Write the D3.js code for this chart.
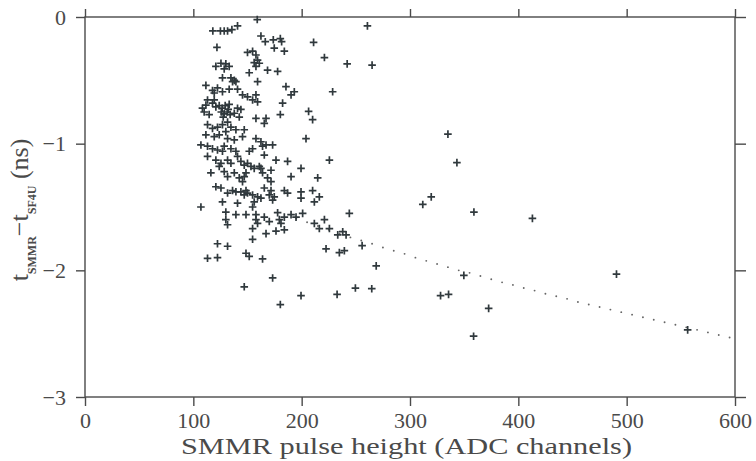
<!DOCTYPE html>
<html>
<head>
<meta charset="utf-8">
<script src="https://cdn.jsdelivr.net/npm/d3@7"></script>
<style>
  html, body { margin: 0; padding: 0; background: #fff; }
  svg { display: block; }
</style>
</head>
<body>
<svg id="chart" width="756" height="461"></svg>
<script>
// ---- data ----
const pulseHeight = [
  118,125,128.5,131.6,135.6,140.8,159,162.4,166.4,173.8,180.3,181.5,174.7,184,121.8,150,154.7,157.8,159.3,156.2,
  160.9,157.8,120.8,125.5,130,133.1,128.5,151.6,168.5,177.8,126.9,134.7,137.8,139.3,136.2,159.3,111.6,185.5,193.2,190.2,
  117.7,122.3,119.3,126.9,133.1,140.8,145.4,150,157.8,154.7,159.3,113.1,111.6,119.3,117.7,120.8,182.4,123.9,126.7,129.4,
  132.2,125.8,128.5,131.3,134,127.6,133.1,140.8,143.9,137.8,142.4,110,114.6,108.4,180.3,157.8,167.1,165.5,113.1,117.7,
  122.3,126.9,131.6,134.7,139.3,130,147,111.6,119.3,123.9,131.6,137.8,145.4,157.8,162.4,167.1,163.9,173.2,107,113.1,
  117.7,122.3,128.5,134.7,126.9,139.3,154.7,151.6,165.5,113.1,120.8,125.5,131.6,134.7,140.8,143.9,147,150,153.2,156.2,
  160.9,162.4,176.3,171.7,187,199.4,116.2,123.9,128.5,131.6,137.8,142.4,147,145.4,148.6,163.9,171.7,168.5,190.2,120.8,
  125.5,131.6,136.2,139.3,143.9,148.6,150,147,154.7,159.3,165.5,171.7,170.1,173.2,174.7,184,187,199.4,199.4,126.9,
  140.8,156.2,162.4,154.7,107,130,139.3,148.6,157.8,165.5,177.8,184,190.2,194.8,200.9,130,131.6,157.8,159.3,170.1,
  179.4,180.9,154.7,167.1,176.3,184,154.7,122.3,131.6,113.1,122.3,148.6,151.6,163.9,173.2,147,
  211,221,242,265,260.7,228.6,206.4,210.1,204,225.6,214.8,210.1,211.7,216.3,211.7,216.3,225.6,233.3,237.9,241,
  244,221,255.8,268.8,222.5,234.8,239.4,232.7,249.6,264.7,199.4,180.3,
  335,343.3,311.8,319.6,359,413,328.2,335.6,349.7,372.6,358.7,490.6,556.3
];
const timeDiff = [
  -0.11,-0.11,-0.11,-0.11,-0.10,-0.07,-0.02,-0.15,-0.195,-0.18,-0.17,-0.195,-0.245,-0.27,-0.24,-0.28,-0.27,-0.30,-0.34,-0.36,
  -0.365,-0.39,-0.39,-0.365,-0.37,-0.39,-0.41,-0.44,-0.42,-0.43,-0.48,-0.48,-0.50,-0.51,-0.51,-0.51,-0.54,-0.55,-0.59,-0.615,
  -0.58,-0.56,-0.60,-0.59,-0.57,-0.57,-0.615,-0.63,-0.615,-0.655,-0.67,-0.655,-0.695,-0.655,-0.68,-0.71,-0.68,-0.70,-0.72,-0.70,
  -0.73,-0.75,-0.765,-0.75,-0.77,-0.79,-0.69,-0.72,-0.73,-0.76,-0.79,-0.75,-0.77,-0.72,-0.77,-0.80,-0.80,-0.84,-0.85,-0.88,
  -0.87,-0.85,-0.83,-0.87,-0.89,-0.905,-0.89,-0.93,-0.945,-0.93,-0.96,-0.97,-0.945,-0.96,-0.985,-1.01,-1.02,-1.01,-1.01,-1.02,
  -1.04,-1.05,-1.02,-1.04,-1.06,-1.06,-1.04,-1.06,-1.09,-1.10,-1.13,-1.155,-1.13,-1.155,-1.10,-1.14,-1.17,-1.155,-1.18,-1.195,
  -1.18,-1.195,-1.13,-1.21,-1.14,-1.195,-1.23,-1.18,-1.22,-1.26,-1.23,-1.27,-1.26,-1.30,-1.23,-1.23,-1.30,-1.27,-1.26,-1.34,
  -1.35,-1.39,-1.37,-1.38,-1.38,-1.37,-1.39,-1.405,-1.405,-1.42,-1.35,-1.37,-1.405,-1.445,-1.42,-1.37,-1.39,-1.38,-1.43,-1.46,
  -1.47,-1.46,-1.43,-1.50,-1.50,-1.54,-1.56,-1.56,-1.56,-1.58,-1.545,-1.58,-1.56,-1.58,-1.55,-1.60,-1.64,-1.60,-1.63,-1.615,
  -1.60,-1.63,-1.67,-1.71,-1.69,-1.68,-1.755,-1.79,-1.81,-1.905,-1.90,-1.865,-1.89,-1.91,-2.06,-2.13,
  -0.20,-0.32,-0.37,-0.38,-0.07,-0.59,-0.745,-0.81,-0.96,-1.13,-1.27,-1.37,-1.46,-1.42,-1.63,-1.67,-1.67,-1.72,-1.695,-1.72,
  -1.55,-1.60,-1.805,-1.965,-1.83,-1.86,-1.845,-2.19,-2.14,-2.145,-2.20,-2.27,
  -0.925,-1.15,-1.48,-1.42,-1.54,-1.59,-2.20,-2.19,-2.04,-2.30,-2.52,-2.03,-2.47
];
// dotted curve drawn in the reference
const curveX = [195,205,215,225,235,245,255,265,275,285,295,305,315,325,335,345,355,365,375,385,
                395,405,415,425,435,445,455,465,475,485,495,505,515,525,535,545,555,565,575,585,595];
const curveY = [-1.59,-1.62,-1.65,-1.68,-1.71,-1.74,-1.765,-1.79,-1.82,-1.845,-1.87,-1.90,-1.925,-1.95,-1.975,-2.00,-2.02,-2.045,-2.07,-2.095,
                -2.115,-2.14,-2.16,-2.185,-2.205,-2.225,-2.25,-2.27,-2.29,-2.31,-2.33,-2.35,-2.37,-2.39,-2.41,-2.43,-2.45,-2.47,-2.49,-2.51,-2.53];
const xTicks = [0,100,200,300,400,500,600];
const yTicks = [0,-1,-2,-3];
const xTitle = "SMMR pulse height (ADC channels)";

// ---- layout ----
const L = 85, R = 735, T = 17, B = 397;
const ink = "#4a4a4a";
const svg = d3.select("#chart");
const x = d3.scaleLinear().domain([0, 600]).range([L, R]);
const y = d3.scaleLinear().domain([-3, 0]).range([B, T]);

// frame
svg.append("rect").attr("x", L).attr("y", T).attr("width", R - L).attr("height", B - T)
  .attr("fill", "none").attr("stroke", ink).attr("stroke-width", 1.4);

const serif = "'Liberation Serif', 'Times New Roman', serif";

function styleAxis(g) {
  g.select(".domain").remove();
  g.selectAll(".tick line").attr("stroke", ink).attr("stroke-width", 1.4);
  g.selectAll("text").attr("fill", ink).style("font-family", serif).style("font-size", "22px");
}

svg.append("g").attr("transform", `translate(0,${B})`)
  .call(d3.axisBottom(x).tickValues(xTicks).tickSize(9).tickPadding(6).tickFormat(d3.format("d")))
  .call(styleAxis);
svg.append("g").attr("transform", `translate(0,${T})`)
  .call(d3.axisTop(x).tickValues(xTicks).tickSize(8).tickFormat(""))
  .call(styleAxis);
svg.append("g").attr("transform", `translate(${L},0)`)
  .call(d3.axisLeft(y).tickValues(yTicks).tickSize(9).tickPadding(10).tickFormat(d3.format("d")))
  .call(styleAxis);
svg.append("g").attr("transform", `translate(${R},0)`)
  .call(d3.axisRight(y).tickValues(yTicks).tickSize(11).tickFormat(""))
  .call(styleAxis);

// dotted curve
svg.append("g").selectAll("circle").data(curveX.map((d, i) => [d, curveY[i]])).join("circle")
  .attr("cx", d => x(d[0])).attr("cy", d => y(d[1])).attr("r", 0.95).attr("fill", "#666");

// scatter points (plus markers)
const pts = pulseHeight.map((d, i) => [d, timeDiff[i]]);
svg.append("g").selectAll("path").data(pts).join("path")
  .attr("transform", d => `translate(${x(d[0])},${y(d[1])})`)
  .attr("d", "M-3.8,0H3.8M0,-3.8V3.8")
  .attr("stroke", "#30393d").attr("stroke-width", 1.7).attr("fill", "none");

// x title
svg.append("text").attr("x", 181).attr("y", 454)
  .attr("textLength", 451).attr("lengthAdjust", "spacingAndGlyphs")
  .attr("fill", ink).style("font-family", serif).style("font-size", "23px")
  .text(xTitle);

// y title (rotated)
const yt = svg.append("text")
  .attr("transform", "translate(28,210) rotate(-90)")
  .attr("text-anchor", "middle")
  .attr("fill", ink).style("font-family", serif).style("font-size", "26px");
yt.append("tspan").text("t");
yt.append("tspan").attr("dy", 8).style("font-size", "12px").style("font-weight", "bold").text("SMMR");
yt.append("tspan").attr("dy", -8).text("\u2212t");
yt.append("tspan").attr("dy", 8).style("font-size", "12px").style("font-weight", "bold").text("SF4U");
yt.append("tspan").attr("dy", -8).text("\u00a0(ns)");
</script>
</body>
</html>
